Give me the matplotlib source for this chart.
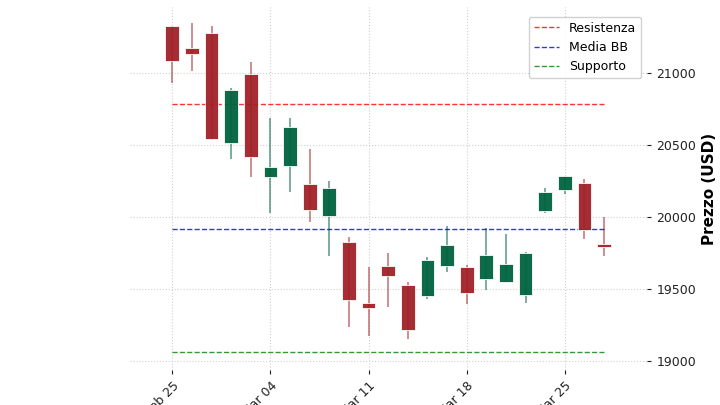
import matplotlib
matplotlib.use("Agg")
import matplotlib.pyplot as plt
import numpy as np

dates = ["Feb 25", "Feb 26", "Feb 27", "Feb 28", "Feb 29",
         "Mar 04", "Mar 05", "Mar 06", "Mar 07", "Mar 08",
         "Mar 11", "Mar 12", "Mar 13", "Mar 14", "Mar 15",
         "Mar 18", "Mar 19", "Mar 20", "Mar 21", "Mar 22",
         "Mar 25", "Mar 26", "Mar 27"]
opens = [21322, 21171, 21280, 20516, 20991, 20276, 20356, 20229, 20009, 19824, 19401, 19660,
         19528, 19451, 19662, 19655, 19572, 19549, 19456, 20040, 20190, 20234, 19813]
closes = [21083, 21130, 20542, 20882, 20419, 20349, 20627, 20049, 20199, 19424, 19368, 19590,
          19220, 19701, 19808, 19474, 19734, 19672, 19752, 20176, 20287, 19910, 19792]
highs = [21322, 21345, 21322, 20896, 21074, 20685, 20685, 20470, 20248, 19863, 19655, 19748,
         19551, 19722, 19938, 19667, 19922, 19884, 19759, 20199, 20287, 20264, 20000]
lows = [20928, 21014, 20542, 20405, 20280, 20030, 20176, 19967, 19731, 19238, 19176, 19373,
        19151, 19433, 19620, 19394, 19493, 19549, 19405, 20026, 20158, 19847, 19731]

resistenza = 20783
media_bb = 19919
supporto = 19063

UP = "#006340"
DOWN = "#A02128"

fig = plt.figure(figsize=(7.2, 4.05), dpi=100)
ax = fig.add_axes([0.181, 0.086, 0.718, 0.897])

x = np.arange(len(dates))
o = np.array(opens)
c = np.array(closes)
cols = [UP if cc >= oo else DOWN for oo, cc in zip(o, c)]

ax.vlines(x, lows, highs, colors=cols, linewidth=1.2, alpha=0.6, zorder=2)
ax.bar(x, np.abs(c - o), bottom=np.minimum(o, c), width=0.7, color=cols,
       edgecolor="white", linewidth=0.6, alpha=0.95, zorder=3)

ax.hlines(resistenza, x[0], x[-1], colors="red", linestyles="--", linewidth=1, alpha=0.8, label="Resistenza")
ax.hlines(media_bb, x[0], x[-1], colors="blue", linestyles="--", linewidth=1, alpha=0.8, label="Media BB")
ax.hlines(supporto, x[0], x[-1], colors="green", linestyles="--", linewidth=1, alpha=0.8, label="Supporto")

ax.set_xlim(-2.14, 24.2)
ax.set_ylim(18938, 21458)
ax.set_yticks([19000, 19500, 20000, 20500, 21000])
ax.yaxis.tick_right()
ax.yaxis.set_label_position("right")
ax.set_ylabel("Prezzo (USD)", fontsize=11, fontweight="bold")
ax.set_xticks(x[::5])
ax.set_xticklabels(dates[::5], rotation=45, ha="right", rotation_mode="anchor")
ax.tick_params(labelsize=9, colors="#222222", length=3)
ax.grid(True, linestyle=":", color="#d0d0d0", linewidth=0.8)
for s in ax.spines.values():
    s.set_visible(False)
ax.legend(loc="upper right", fontsize=9, framealpha=0.9, bbox_to_anchor=(1.0, 0.99))

fig.savefig("out.png", dpi=100)
